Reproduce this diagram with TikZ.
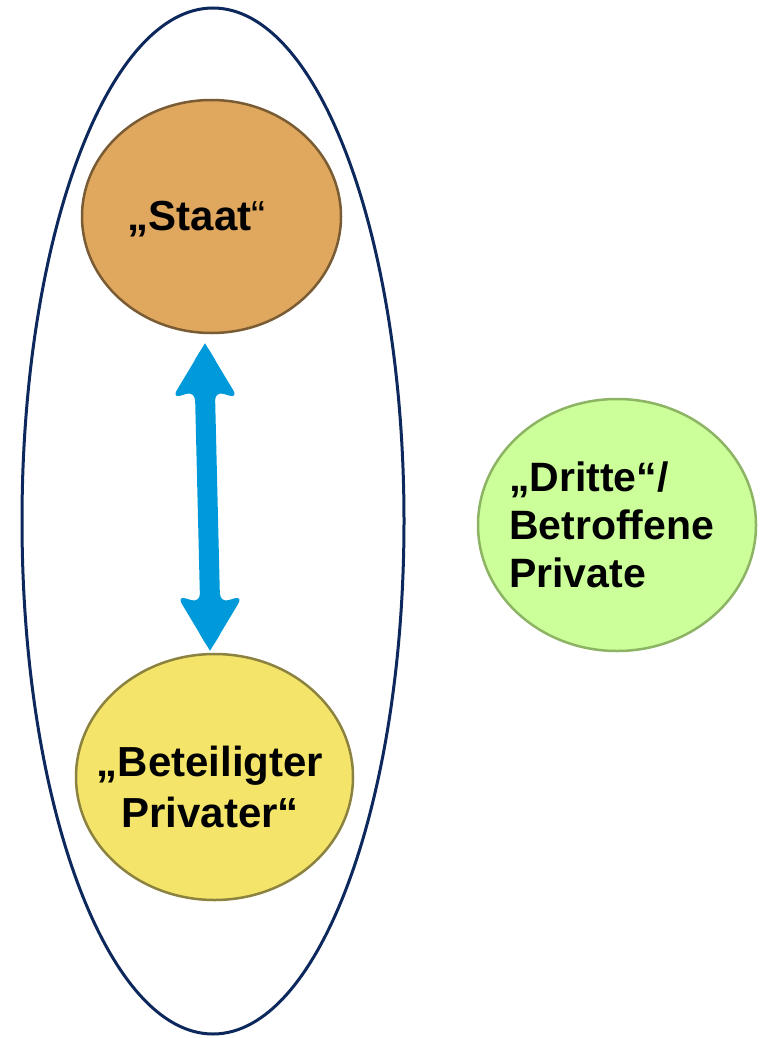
\documentclass[tikz,border=0pt]{standalone}
\usepackage{fontspec}
\setmainfont{Liberation Sans}
\usetikzlibrary{shapes.geometric,calc}

\definecolor{navy}{RGB}{12,40,92}
\definecolor{staatfill}{RGB}{224,168,94}
\definecolor{staatline}{RGB}{122,92,52}
\definecolor{privfill}{RGB}{244,228,106}
\definecolor{privline}{RGB}{140,130,64}
\definecolor{drittfill}{RGB}{204,255,153}
\definecolor{drittline}{RGB}{140,180,100}
\definecolor{arrowblue}{RGB}{0,153,217}

\tikzset{
  actor/.style={ellipse, inner sep=0pt, line width=2.5pt},
  label/.style={inner sep=0pt, text=black, font=\bfseries},
  shaft/.style={arrowblue, line width=20pt},
  headfill/.style={fill=arrowblue, draw=none}
}

\begin{document}
\begin{tikzpicture}[x=1pt, y=-1pt]
  \useasboundingbox (0,0) rectangle (761,1038);

  % enclosing group
  \node[ellipse, draw=navy, line width=3pt, minimum width=382pt, minimum height=1026pt, inner sep=0pt]
    (group) at (213,521) {};

  % the three parties
  \node[actor, draw=staatline, fill=staatfill, minimum width=259pt, minimum height=233pt]
    (staat) at (211.5,216.5) {};
  \node[actor, draw=privline, fill=privfill, minimum width=277pt, minimum height=246pt]
    (priv) at (214.5,777) {};
  \node[actor, draw=drittline, fill=drittfill, minimum width=278pt, minimum height=252pt]
    (dritte) at (617,525) {};

  % labels (multi-line nodes are anchored at the baseline of their last line)
  \node[label, anchor=base, font=\fontsize{42}{51}\selectfont\bfseries]
    (staattext) at (196.5,230) {„Staat{\mdseries“}};
  \node[label, anchor=base, align=center, font=\fontsize{42}{51}\selectfont\bfseries]
    (privtext) at (210,827) {„Beteiligter\\Privater“};
  \node[label, anchor=base west, align=left, font=\fontsize{41}{48}\selectfont\bfseries]
    (drittetext) at (509,587) {„Dritte“/\\Betroffene\\Private};

  % double-headed arrow between Staat and beteiligter Privater
  \coordinate (tipA) at ([xshift=-6.5pt, yshift=-9pt]staat.south);
  \coordinate (tipB) at ([xshift=-4.5pt, yshift=2pt]priv.north);
  \draw[shaft] ($(tipA)+(0,50)$) -- ($(tipB)+(0,-50)$);

  \fill[headfill, rounded corners=9pt]
    (tipA) -- ++(33,55) -- ++(-23,-7) -- ++(0,14) -- ++(-20,0) -- ++(0,-14) -- ++(-23,7) -- cycle;
  \fill[headfill] (tipA) -- ++(10.4,17.1) -- ++(-20.8,0) -- cycle;

  \fill[headfill, rounded corners=9pt]
    (tipB) -- ++(33,-55) -- ++(-23,7) -- ++(0,-14) -- ++(-20,0) -- ++(0,14) -- ++(-23,-7) -- cycle;
  \fill[headfill] (tipB) -- ++(10.4,-17.1) -- ++(-20.8,0) -- cycle;
\end{tikzpicture}
\end{document}
